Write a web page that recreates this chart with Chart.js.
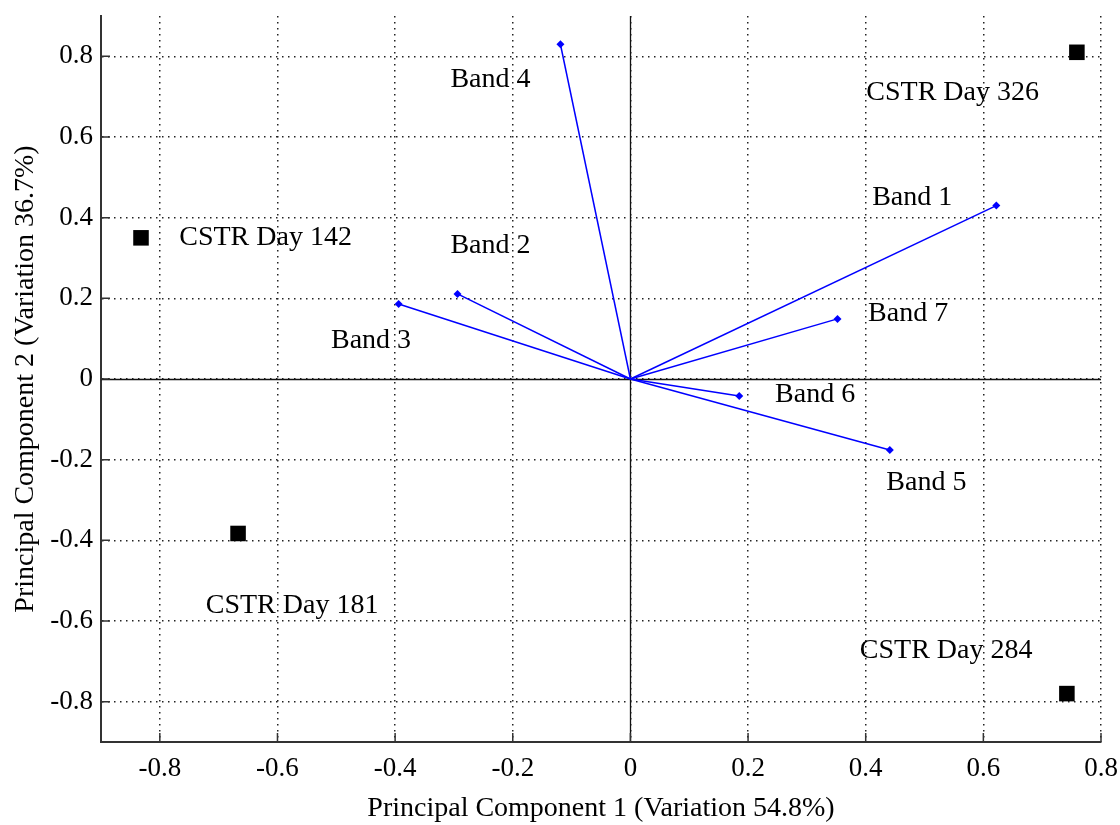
<!DOCTYPE html>
<html>
<head>
<meta charset="utf-8">
<script src="https://cdn.jsdelivr.net/npm/chart.js@4"></script>
<style>
    body { margin: 0; background: #fff; }
</style>
</head>
<body>
<canvas id="chart" width="1120" height="825"></canvas>
<script>
// loadings (band vectors) and sample scores
var bandNames = ['Band 1', 'Band 2', 'Band 3', 'Band 4', 'Band 5', 'Band 6', 'Band 7'];
var bandX = [0.622, -0.294, -0.394, -0.119, 0.441, 0.185, 0.352];
var bandY = [0.430, 0.211, 0.186, 0.830, -0.176, -0.042, 0.149];

var sampleNames = ['CSTR Day 326', 'CSTR Day 142', 'CSTR Day 181', 'CSTR Day 284'];
var sampleX = [0.759, -0.832, -0.667, 0.742];
var sampleY = [0.810, 0.350, -0.383, -0.780];

var xTicks = [-0.8, -0.6, -0.4, -0.2, 0, 0.2, 0.4, 0.6, 0.8];
var yTicks = [-0.8, -0.6, -0.4, -0.2, 0, 0.2, 0.4, 0.6, 0.8];

// where the text annotations sit (data units, left edge / middle)
var bandLabelX = [0.411, -0.306, -0.509, -0.306, 0.435, 0.246, 0.404];
var bandLabelY = [0.450, 0.330, 0.094, 0.743, -0.258, -0.040, 0.161];
var sampleLabelX = [0.401, -0.767, -0.722, 0.390];
var sampleLabelY = [0.711, 0.350, -0.561, -0.673];

var serif = 'Liberation Serif';
var fs = 28;

function fmt(v) {
    if (Math.abs(v) < 1e-9) return '0';
    return v.toFixed(1);
}

var datasets = [];
for (var i = 0; i < bandNames.length; i++) {
    datasets.push({
        label: bandNames[i],
        data: [{x: 0, y: 0}, {x: bandX[i], y: bandY[i]}],
        showLine: true,
        borderColor: '#0000ff',
        backgroundColor: '#0000ff',
        borderWidth: 1.5,
        pointStyle: 'rectRot',
        pointRadius: [0, 4],
        pointBorderWidth: 0
    });
}
datasets.push({
    label: 'samples',
    data: sampleX.map(function(x, i) { return {x: x, y: sampleY[i]}; }),
    showLine: false,
    pointStyle: 'rect',
    pointRadius: 11,
    backgroundColor: '#000',
    borderColor: '#000',
    pointBorderWidth: 0
});

var extras = {
    id: 'extras',
    beforeDatasetsDraw: function(chart) {
        var ctx = chart.ctx;
        var a = chart.chartArea;
        var sx = chart.scales.x, sy = chart.scales.y;
        ctx.save();
        // zero lines
        ctx.strokeStyle = '#111';
        ctx.lineWidth = 1.3;
        var x0 = Math.round(sx.getPixelForValue(0)) + 0.5;
        var y0 = Math.round(sy.getPixelForValue(0)) + 0.5;
        ctx.beginPath();
        ctx.moveTo(x0, a.top); ctx.lineTo(x0, a.bottom);
        ctx.moveTo(a.left, y0); ctx.lineTo(a.right, y0);
        ctx.stroke();
        // inward tick marks
        ctx.strokeStyle = '#333';
        ctx.lineWidth = 1.5;
        ctx.beginPath();
        xTicks.forEach(function(v) {
            var px = sx.getPixelForValue(v);
            ctx.moveTo(px, a.bottom); ctx.lineTo(px, a.bottom - 9);
        });
        yTicks.forEach(function(v) {
            var py = sy.getPixelForValue(v);
            ctx.moveTo(a.left, py); ctx.lineTo(a.left + 9, py);
        });
        ctx.stroke();
        ctx.restore();
    },
    afterDatasetsDraw: function(chart) {
        var ctx = chart.ctx;
        var sx = chart.scales.x, sy = chart.scales.y;
        ctx.save();
        ctx.fillStyle = '#000';
        ctx.font = fs + 'px "' + serif + '"';
        ctx.textAlign = 'left';
        ctx.textBaseline = 'middle';
        bandNames.forEach(function(n, i) {
            ctx.fillText(n, sx.getPixelForValue(bandLabelX[i]), sy.getPixelForValue(bandLabelY[i]));
        });
        sampleNames.forEach(function(n, i) {
            ctx.fillText(n, sx.getPixelForValue(sampleLabelX[i]), sy.getPixelForValue(sampleLabelY[i]));
        });
        ctx.restore();
    }
};

var ctx = document.getElementById('chart').getContext('2d');
var chart = new Chart(ctx, {
    type: 'scatter',
    data: { datasets: datasets },
    options: {
        responsive: false,
        animation: false,
        layout: { padding: { top: 16, right: 19, left: 0, bottom: 0 } },
        plugins: {
            legend: { display: false },
            tooltip: { enabled: false }
        },
        scales: {
            x: {
                type: 'linear',
                min: -0.9,
                max: 0.8,
                afterBuildTicks: function(s) { s.ticks = xTicks.map(function(v) { return {value: v}; }); },
                afterFit: function(s) {
                    s.height = 83;
                    s.paddingLeft = 0;
                    s.paddingRight = 0;
                },
                grid: { color: '#222', lineWidth: 1.5, drawTicks: false },
                border: { display: true, color: '#333', width: 2, dash: [1.5, 4.5] },
                ticks: { color: '#000', font: { family: serif, size: 27 }, padding: 11, maxRotation: 0, callback: fmt },
                title: {
                    display: true,
                    text: 'Principal Component 1 (Variation 54.8%)',
                    color: '#000',
                    font: { family: serif, size: fs },
                    padding: { top: 0, bottom: 0 }
                }
            },
            y: {
                type: 'linear',
                min: -0.9,
                max: 0.9,
                afterBuildTicks: function(s) { s.ticks = yTicks.map(function(v) { return {value: v}; }); },
                afterFit: function(s) {
                    s.width = 101;
                    s.paddingTop = 0;
                    s.paddingBottom = 0;
                },
                grid: { color: '#222', lineWidth: 1.5, drawTicks: false },
                border: { display: true, color: '#333', width: 2, dash: [1.5, 4.5] },
                ticks: { color: '#000', font: { family: serif, size: 27 }, padding: 8, callback: fmt },
                title: {
                    display: true,
                    text: 'Principal Component 2 (Variation 36.7%)',
                    color: '#000',
                    font: { family: serif, size: fs },
                    padding: { top: 9, bottom: 0 }
                }
            }
        }
    },
    plugins: [extras]
});
</script>
</body>
</html>
